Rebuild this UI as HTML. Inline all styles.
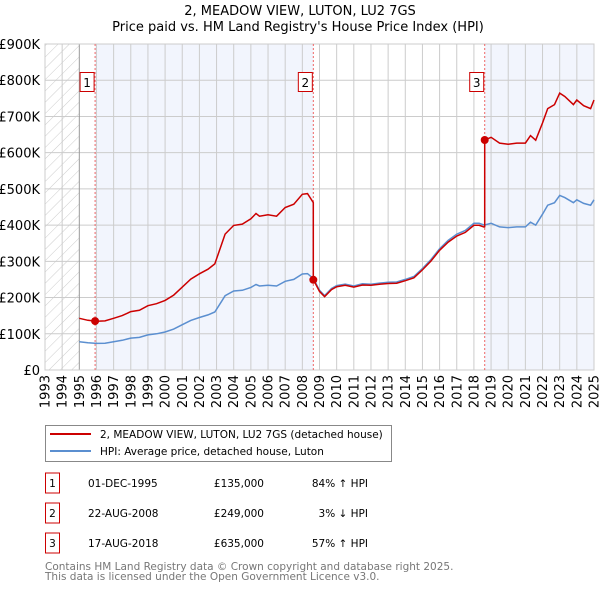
<!DOCTYPE html>
<html><head><meta charset="utf-8"><style>
body{margin:0;background:#fff;font-family:"DejaVu Sans","Liberation Sans",sans-serif;}
svg text{font-family:"DejaVu Sans","Liberation Sans",sans-serif;}
</style></head><body>
<svg width="600" height="590" viewBox="0 0 600 590" xmlns="http://www.w3.org/2000/svg">
<defs><pattern id="hatch" width="8" height="8" patternUnits="userSpaceOnUse" patternTransform="rotate(45)"><line x1="0" y1="0" x2="0" y2="8" stroke="#ccc" stroke-width="1"/></pattern></defs>
<text x="300" y="15" text-anchor="middle" font-size="13" fill="#000">2, MEADOW VIEW, LUTON, LU2 7GS</text>
<text x="298" y="31" text-anchor="middle" font-size="13" fill="#000">Price paid vs. HM Land Registry's House Price Index (HPI)</text>
<g id="plot"></g>
<g>
<rect x="45.5" y="425.5" width="346" height="36" fill="#fff" stroke="#888"/>
<line x1="50" y1="434" x2="91" y2="434" stroke="#cc0000" stroke-width="2"/>
<text x="100" y="438" font-size="10.5">2, MEADOW VIEW, LUTON, LU2 7GS (detached house)</text>
<line x1="50" y1="451" x2="91" y2="451" stroke="#5b8fd0" stroke-width="2"/>
<text x="100" y="455" font-size="10.5">HPI: Average price, detached house, Luton</text>
</g>
<g id="table" font-size="10.5"></g>
<text x="45" y="570" font-size="10.5" fill="#777">Contains HM Land Registry data © Crown copyright and database right 2025.</text>
<text x="45" y="580" font-size="10.5" fill="#777">This data is licensed under the Open Government Licence v3.0.</text>
</svg>
<script>
const hpiYears=[1995,1995.5,1996,1996.5,1997,1997.5,1998,1998.5,1999,1999.5,2000,2000.5,2001,2001.5,2002,2002.5,2002.9,2003.3,2003.5,2004,2004.5,2005,2005.3,2005.5,2006,2006.5,2007,2007.5,2008,2008.3,2008.65,2009,2009.3,2009.7,2010,2010.5,2011,2011.5,2012,2012.5,2013,2013.5,2014,2014.5,2015,2015.5,2016,2016.5,2017,2017.5,2018,2018.3,2018.6,2019,2019.5,2020,2020.5,2021,2021.3,2021.6,2022,2022.3,2022.7,2023,2023.3,2023.8,2024,2024.4,2024.8,2025];
const hpiValues=[78,75,73.5,74,78,82,88,90,97,100,105,113,125,137,145,152,160,190,205,218,220,228,236,232,234,232,245,250,265,266,252,220,205,225,233,237,232,238,237,240,242,243,250,258,280,305,335,358,375,385,405,405,400,405,395,393,395,395,408,400,430,455,462,482,476,462,470,460,455,470];
const saleYears=[1995.92,2008.64,2018.63];
const salePrices=[135,249,635];
const saleLabels=["1","2","3"];
const saleDates=["01-DEC-1995","22-AUG-2008","17-AUG-2018"];
const salePriceText=["£135,000","£249,000","£635,000"];
const saleDiffText=["84% ↑ HPI","3% ↓ HPI","57% ↑ HPI"];
const yTicks=[0,100,200,300,400,500,600,700,800,900];
const yTickLabels=["£0","£100K","£200K","£300K","£400K","£500K","£600K","£700K","£800K","£900K"];
const xTicks=[1993,1994,1995,1996,1997,1998,1999,2000,2001,2002,2003,2004,2005,2006,2007,2008,2009,2010,2011,2012,2013,2014,2015,2016,2017,2018,2019,2020,2021,2022,2023,2024,2025];

const NS="http://www.w3.org/2000/svg";
const X0=45,X1=594,Y0=370,Y1=44;
const xs=y=>X0+(y-1993)/(2025-1993)*(X1-X0);
const ys=v=>Y0-v/900*(Y0-Y1);
const plot=document.getElementById('plot');
function mk(tag,attrs,parent){const e=document.createElementNS(NS,tag);for(const k in attrs)e.setAttribute(k,attrs[k]);(parent||plot).appendChild(e);return e;}
function hpiAt(t){for(let i=0;i<hpiYears.length-1;i++){if(t<=hpiYears[i+1]){const f=(t-hpiYears[i])/(hpiYears[i+1]-hpiYears[i]);return hpiValues[i]+f*(hpiValues[i+1]-hpiValues[i]);}}return hpiValues[hpiValues.length-1];}

let e;
e=mk('rect',{x:X0,y:Y1,width:xs(1995)-X0,height:Y0-Y1,fill:'url(#hatch)'});


e=mk('rect',{x:xs(saleYears[0]),y:Y1,width:xs(saleYears[1])-xs(saleYears[0]),height:Y0-Y1,fill:'#f2f5fd'});


e=mk('rect',{x:xs(saleYears[2]),y:Y1,width:X1-xs(saleYears[2]),height:Y0-Y1,fill:'#f2f5fd'});



yTicks.forEach((v,i)=>{
  e=mk('line',{x1:X0,x2:X1,y1:ys(v),y2:ys(v),stroke:'#ccc','stroke-width':1});
  
  
  e=mk('text',{x:X0-5,y:ys(v)+5,'text-anchor':'end','font-size':13,fill:'#000'});
  e.textContent=yTickLabels[i];
  
  
});
xTicks.forEach(t=>{
  e=mk('line',{x1:xs(t),x2:xs(t),y1:Y1,y2:Y0,stroke:t===1995?'#999':'#ccc','stroke-width':1});
  
  
  e=mk('text',{x:0,y:0,'text-anchor':'end','font-size':13,fill:'#000',transform:`translate(${xs(t)+4.5},${Y0+5}) rotate(-90)`});
  e.textContent=t;
  
  
});
e=mk('rect',{x:X0,y:Y1,width:X1-X0,height:Y0-Y1,fill:'none',stroke:'#ccc'});



saleYears.forEach((t,i)=>{
  e=mk('line',{x1:xs(t),x2:xs(t),y1:Y1,y2:Y0,stroke:'#ee6666','stroke-width':1,'stroke-dasharray':'2,2'});
  
  
  e=mk('rect',{x:xs(t)-15,y:72.5,width:14,height:19,fill:'#fff',stroke:'#cc0000'});
  
  
  e=mk('text',{x:xs(t)-8,y:87,'text-anchor':'middle','font-size':12});
  e.textContent=saleLabels[i];
  
  
});

let d=hpiYears.map((t,i)=>(i?'L':'M')+xs(t).toFixed(1)+','+ys(hpiValues[i]).toFixed(1)).join(' ');
e=mk('path',{d:d,fill:'none',stroke:'#5b8fd0','stroke-width':1.5});



const pts=[];
for(let s=0;s<saleYears.length;s++){
  const start=s===0?1995:saleYears[s];
  const end=s<saleYears.length-1?saleYears[s+1]:2025;
  const f=salePrices[s]/hpiAt(saleYears[s]);
  const ts=[start].concat(hpiYears.filter(t=>t>start&&t<end)).concat([end]);
  ts.forEach(t=>pts.push([t,hpiAt(t)*f]));
  if(s<saleYears.length-1)pts.push([end,salePrices[s+1]]);
}
d=pts.map((p,i)=>(i?'L':'M')+xs(p[0]).toFixed(1)+','+ys(p[1]).toFixed(1)).join(' ');
e=mk('path',{d:d,fill:'none',stroke:'#cc0000','stroke-width':1.5});


saleYears.forEach((t,i)=>{
  e=mk('circle',{cx:xs(t),cy:ys(salePrices[i]),r:4,fill:'#cc0000'});
  
  
});

const tb=document.getElementById('table');
saleYears.forEach((t,i)=>{
  const cy=483+i*30;
  e=mk('rect',{x:45.5,y:cy-10,width:14,height:20,fill:'#fff',stroke:'#cc0000'},tb);
  
  
  e=mk('text',{x:52.5,y:cy+4,'text-anchor':'middle'},tb);e.textContent=saleLabels[i];
  
  
  e=mk('text',{x:88,y:cy+4},tb);e.textContent=saleDates[i];
  
  
  e=mk('text',{x:264,y:cy+4,'text-anchor':'end'},tb);e.textContent=salePriceText[i];
  
  
  e=mk('text',{x:368,y:cy+4,'text-anchor':'end'},tb);e.textContent=saleDiffText[i];
  
  
});
</script>
</body></html>
